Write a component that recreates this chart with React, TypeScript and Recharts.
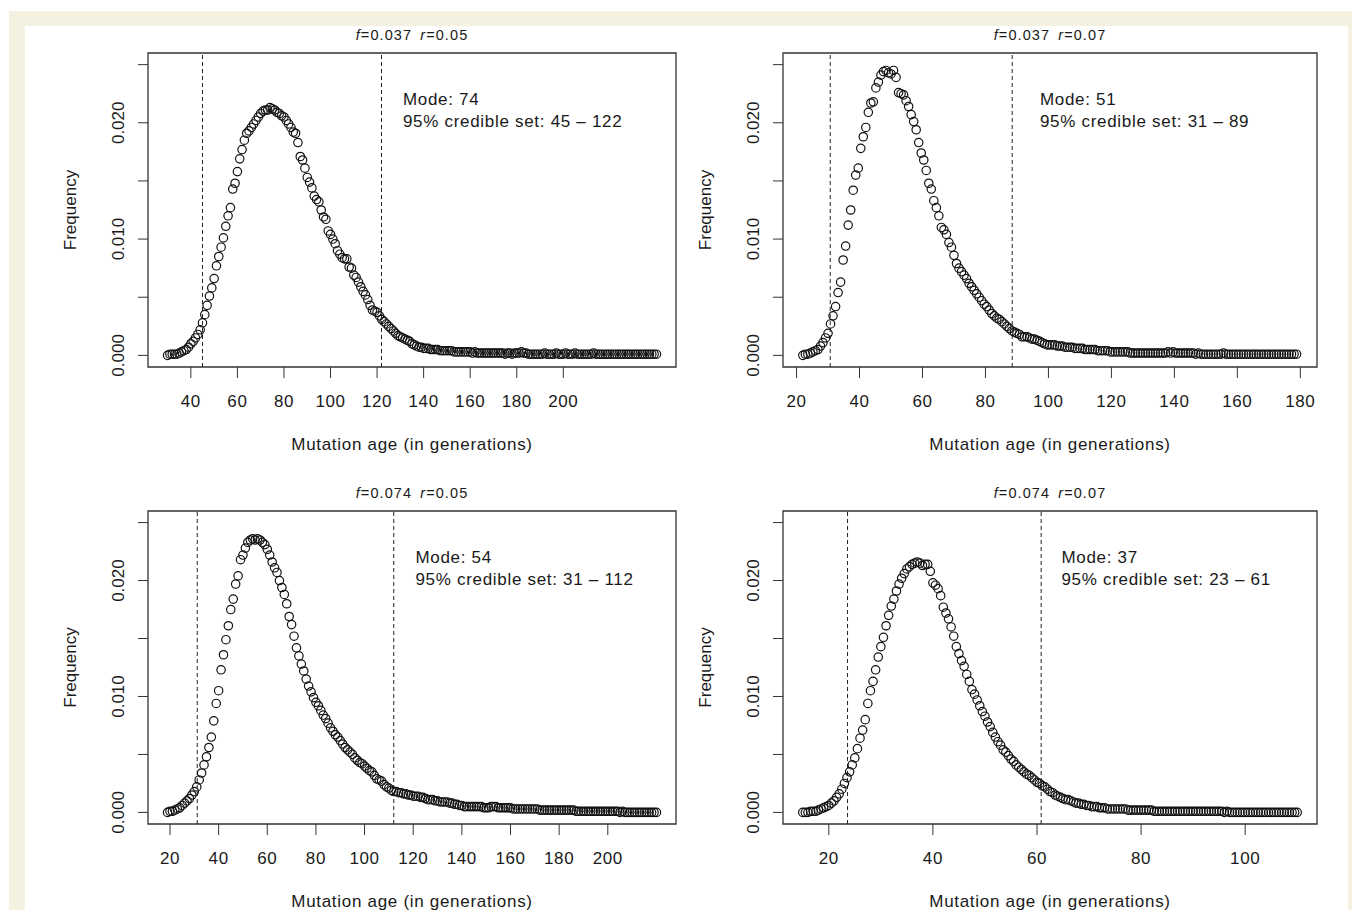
import React from 'react';
import { ScatterChart, Scatter, XAxis, YAxis, ReferenceLine, ReferenceArea, ReferenceDot } from 'recharts';

const FONT = '"Liberation Sans", Arial, Helvetica, sans-serif';
const INK = '#1a1a1a';
const BEIGE = '#F5F1E1';

// ---------- Panel 1 : f=0.037 r=0.05 ----------
const P1_AGE = [
  30,31,32,33,34,35,36,37,38,39,40,41,42,43,44,45,46,47,48,49,
  50,51,52,53,54,55,56,57,58,59,60,61,62,63,64,65,66,67,68,69,
  70,71,72,73,74,75,76,77,78,79,80,81,82,83,84,85,86,87,88,89,
  90,91,92,93,94,95,96,97,98,99,100,101,102,103,104,105,106,107,108,109,
  110,111,112,113,114,115,116,117,118,119,120,121,122,123,124,125,126,127,128,129,
  130,131,132,133,134,135,136,137,138,139,140,141,142,143,144,145,146,147,148,149,
  150,151,152,153,154,155,156,157,158,159,160,161,162,163,164,165,166,167,168,169,
  170,171,172,173,174,175,176,177,178,179,180,181,182,183,184,185,186,187,188,189,
  190,191,192,193,194,195,196,197,198,199,200,201,202,203,204,205,206,207,208,209,
  210,211,212,213,214,215,216,217,218,219,220,221,222,223,224,225,226,227,228,229,
  230,231,232,233,234,235,236,237,238,239,240,
];
const P1_FREQ = [
  0.0000,0.0001,0.0001,0.0001,0.0001,0.0002,0.0003,0.0004,0.0005,0.0007,
  0.0010,0.0012,0.0015,0.0018,0.0022,0.0028,0.0035,0.0043,0.0051,0.0058,
  0.0066,0.0077,0.0085,0.0093,0.0101,0.0111,0.0120,0.0127,0.0143,0.0148,
  0.0158,0.0169,0.0177,0.0185,0.0191,0.0193,0.0196,0.0199,0.0202,0.0205,
  0.0208,0.0210,0.0211,0.0211,0.0213,0.0212,0.0211,0.0209,0.0208,0.0206,
  0.0205,0.0202,0.0199,0.0196,0.0192,0.0191,0.0183,0.0171,0.0168,0.0161,
  0.0153,0.0149,0.0144,0.0137,0.0134,0.0132,0.0125,0.0119,0.0117,0.0107,
  0.0104,0.0100,0.0096,0.0090,0.0087,0.0084,0.0083,0.0083,0.0076,0.0075,
  0.0069,0.0067,0.0063,0.0059,0.0055,0.0052,0.0048,0.0043,0.0039,0.0038,
  0.0037,0.0034,0.0031,0.0029,0.0027,0.0025,0.0023,0.0021,0.0019,0.0017,
  0.0016,0.0015,0.0014,0.0013,0.0012,0.0010,0.0009,0.0008,0.0007,0.0007,
  0.0006,0.0006,0.0006,0.0005,0.0005,0.0005,0.0005,0.0004,0.0004,0.0004,
  0.0004,0.0004,0.0004,0.0003,0.0003,0.0003,0.0003,0.0003,0.0003,0.0003,
  0.0003,0.0002,0.0003,0.0002,0.0002,0.0002,0.0002,0.0002,0.0002,0.0002,
  0.0002,0.0002,0.0002,0.0002,0.0002,0.0001,0.0002,0.0002,0.0001,0.0002,
  0.0002,0.0002,0.0003,0.0002,0.0002,0.0001,0.0001,0.0001,0.0001,0.0001,
  0.0001,0.0001,0.0002,0.0001,0.0001,0.0001,0.0001,0.0002,0.0001,0.0001,
  0.0001,0.0002,0.0001,0.0001,0.0001,0.0002,0.0001,0.0001,0.0001,0.0001,
  0.0001,0.0001,0.0001,0.0002,0.0001,0.0001,0.0001,0.0001,0.0001,0.0001,
  0.0001,0.0001,0.0001,0.0001,0.0001,0.0001,0.0001,0.0001,0.0001,0.0001,
  0.0001,0.0001,0.0001,0.0001,0.0001,0.0001,0.0001,0.0001,0.0001,0.0001,0.0001,
];

// ---------- Panel 2 : f=0.037 r=0.07 ----------
const P2_AGE = [
  22,22.8,23.6,24.4,25.2, 26,26.8,27.6,28.4,29.2, 30,30.8,31.6,32.4,33.2,
  34,34.8,35.6,36.4,37.2, 38,38.8,39.6,40.4,41.2, 42,42.8,43.6,44.4,45.2,
  46,46.8,47.6,48.4,49.2, 50,50.8,51.6,52.4,53.2, 54,54.8,55.6,56.4,57.2,
  58,58.8,59.6,60.4,61.2, 62,62.8,63.6,64.4,65.2, 66,66.8,67.6,68.4,69.2,
  70,70.8,71.6,72.4,73.2, 74,74.8,75.6,76.4,77.2, 78,78.8,79.6,80.4,81.2,
  82,82.8,83.6,84.4,85.2, 86,86.8,87.6,88.4,89.2, 90,90.8,91.6,92.4,93.2,
  94,94.8,95.6,96.4,97.2, 98,98.8,99.6,100.4,101.2, 102,102.8,103.6,104.4,105.2,
  106,106.8,107.6,108.4,109.2, 110,110.8,111.6,112.4,113.2, 114,114.8,115.6,116.4,117.2,
  118,118.8,119.6,120.4,121.2, 122,122.8,123.6,124.4,125.2, 126,126.8,127.6,128.4,129.2,
  130,130.8,131.6,132.4,133.2, 134,134.8,135.6,136.4,137.2, 138,138.8,139.6,140.4,141.2,
  142,142.8,143.6,144.4,145.2, 146,146.8,147.6,148.4,149.2, 150,150.8,151.6,152.4,153.2,
  154,154.8,155.6,156.4,157.2, 158,158.8,159.6,160.4,161.2, 162,162.8,163.6,164.4,165.2,
  166,166.8,167.6,168.4,169.2, 170,170.8,171.6,172.4,173.2, 174,174.8,175.6,176.4,177.2,
  178,178.8,
];
const P2_FREQ = [
  0.0000,0.0001,0.0001,0.0002,0.0003, 0.0004,0.0005,0.0008,0.0011,0.0015, 0.0019,0.0027,0.0034,0.0042,0.0054,
  0.0063,0.0082,0.0094,0.0112,0.0125, 0.0142,0.0155,0.0161,0.0178,0.0188, 0.0196,0.0209,0.0217,0.0218,0.0230,
  0.0235,0.0241,0.0244,0.0245,0.0243, 0.0242,0.0245,0.0239,0.0226,0.0225, 0.0224,0.0219,0.0214,0.0207,0.0201,
  0.0194,0.0183,0.0174,0.0168,0.0159, 0.0148,0.0143,0.0133,0.0127,0.0120, 0.0110,0.0108,0.0104,0.0097,0.0093,
  0.0086,0.0079,0.0075,0.0072,0.0069, 0.0066,0.0062,0.0059,0.0056,0.0053, 0.0050,0.0047,0.0044,0.0042,0.0039,
  0.0036,0.0034,0.0032,0.0031,0.0029, 0.0027,0.0025,0.0023,0.0021,0.0020, 0.0019,0.0018,0.0016,0.0016,0.0016,
  0.0015,0.0014,0.0014,0.0013,0.0012, 0.0011,0.0010,0.0009,0.0009,0.0009, 0.0009,0.0008,0.0008,0.0008,0.0007,
  0.0007,0.0007,0.0007,0.0006,0.0006, 0.0006,0.0006,0.0005,0.0005,0.0005, 0.0005,0.0005,0.0004,0.0004,0.0004,
  0.0004,0.0004,0.0003,0.0003,0.0003, 0.0003,0.0003,0.0003,0.0003,0.0003, 0.0002,0.0002,0.0002,0.0002,0.0002,
  0.0002,0.0002,0.0002,0.0002,0.0002, 0.0002,0.0002,0.0002,0.0002,0.0002, 0.0003,0.0002,0.0003,0.0002,0.0002,
  0.0002,0.0002,0.0002,0.0002,0.0002, 0.0002,0.0001,0.0002,0.0001,0.0001, 0.0001,0.0001,0.0001,0.0001,0.0001,
  0.0001,0.0001,0.0002,0.0001,0.0001, 0.0001,0.0001,0.0001,0.0001,0.0001, 0.0001,0.0001,0.0001,0.0001,0.0001,
  0.0001,0.0001,0.0001,0.0001,0.0001, 0.0001,0.0001,0.0001,0.0001,0.0001, 0.0001,0.0001,0.0001,0.0001,0.0001,
  0.0001,0.0001,
];

// ---------- Panel 3 : f=0.074 r=0.05 ----------
const P3_AGE = [
  19,20,21,22,23,24,25,26,27,28,29,30,31,32,33,34,35,36,37,38,
  39,40,41,42,43,44,45,46,47,48,49,50,51,52,53,54,55,56,57,58,
  59,60,61,62,63,64,65,66,67,68,69,70,71,72,73,74,75,76,77,78,
  79,80,81,82,83,84,85,86,87,88,89,90,91,92,93,94,95,96,97,98,
  99,100,101,102,103,104,105,106,107,108,109,110,111,112,113,114,115,116,117,118,
  119,120,121,122,123,124,125,126,127,128,129,130,131,132,133,134,135,136,137,138,
  139,140,141,142,143,144,145,146,147,148,149,150,151,152,153,154,155,156,157,158,
  159,160,161,162,163,164,165,166,167,168,169,170,171,172,173,174,175,176,177,178,
  179,180,181,182,183,184,185,186,187,188,189,190,191,192,193,194,195,196,197,198,
  199,200,201,202,203,204,205,206,207,208,209,210,211,212,213,214,215,216,217,218,
  219,220,
];
const P3_FREQ = [
  0.0000,0.0001,0.0001,0.0002,0.0003,0.0004,0.0006,0.0008,0.0010,0.0012,
  0.0015,0.0018,0.0022,0.0028,0.0034,0.0041,0.0048,0.0056,0.0065,0.0079,
  0.0094,0.0105,0.0123,0.0136,0.0149,0.0161,0.0175,0.0184,0.0197,0.0204,
  0.0218,0.0222,0.0228,0.0233,0.0235,0.0236,0.0235,0.0236,0.0235,0.0233,
  0.0231,0.0227,0.0222,0.0216,0.0211,0.0207,0.0200,0.0194,0.0188,0.0180,
  0.0169,0.0162,0.0152,0.0142,0.0135,0.0128,0.0122,0.0115,0.0109,0.0104,
  0.0099,0.0095,0.0092,0.0088,0.0084,0.0081,0.0077,0.0073,0.0070,0.0067,
  0.0065,0.0062,0.0059,0.0056,0.0054,0.0052,0.0050,0.0047,0.0045,0.0043,
  0.0042,0.0040,0.0038,0.0036,0.0035,0.0032,0.0029,0.0028,0.0027,0.0024,
  0.0022,0.0021,0.0019,0.0018,0.0018,0.0017,0.0017,0.0016,0.0016,0.0015,
  0.0015,0.0014,0.0014,0.0014,0.0013,0.0013,0.0012,0.0011,0.0011,0.0011,
  0.0010,0.0010,0.0009,0.0009,0.0009,0.0009,0.0008,0.0008,0.0007,0.0007,
  0.0006,0.0006,0.0005,0.0005,0.0005,0.0005,0.0005,0.0005,0.0005,0.0005,
  0.0004,0.0004,0.0004,0.0005,0.0005,0.0005,0.0004,0.0004,0.0004,0.0004,
  0.0004,0.0004,0.0003,0.0003,0.0003,0.0003,0.0003,0.0003,0.0003,0.0003,
  0.0003,0.0003,0.0003,0.0002,0.0002,0.0002,0.0002,0.0002,0.0002,0.0002,
  0.0002,0.0002,0.0002,0.0002,0.0002,0.0002,0.0002,0.0002,0.0001,0.0001,
  0.0001,0.0001,0.0001,0.0001,0.0001,0.0001,0.0001,0.0001,0.0001,0.0001,
  0.0001,0.0001,0.0001,0.0001,0.0001,0.0001,0.0000,0.0001,0.0000,0.0000,
  0.0000,0.0000,0.0000,0.0000,0.0000,0.0000,0.0000,0.0000,0.0000,0.0000,
  0.0000,0.0000,
];

// ---------- Panel 4 : f=0.074 r=0.07 ----------
const P4_AGE = [
  15,15.5,16,16.5,17,17.5,18,18.5,19,19.5, 20,20.5,21,21.5,22,22.5,23,23.5,24,24.5,
  25,25.5,26,26.5,27,27.5,28,28.5,29,29.5, 30,30.5,31,31.5,32,32.5,33,33.5,34,34.5,
  35,35.5,36,36.5,37,37.5,38,38.5,39,39.5, 40,40.5,41,41.5,42,42.5,43,43.5,44,44.5,
  45,45.5,46,46.5,47,47.5,48,48.5,49,49.5, 50,50.5,51,51.5,52,52.5,53,53.5,54,54.5,
  55,55.5,56,56.5,57,57.5,58,58.5,59,59.5, 60,60.5,61,61.5,62,62.5,63,63.5,64,64.5,
  65,65.5,66,66.5,67,67.5,68,68.5,69,69.5, 70,70.5,71,71.5,72,72.5,73,73.5,74,74.5,
  75,75.5,76,76.5,77,77.5,78,78.5,79,79.5, 80,80.5,81,81.5,82,82.5,83,83.5,84,84.5,
  85,85.5,86,86.5,87,87.5,88,88.5,89,89.5, 90,90.5,91,91.5,92,92.5,93,93.5,94,94.5,
  95,95.5,96,96.5,97,97.5,98,98.5,99,99.5, 100,100.5,101,101.5,102,102.5,103,103.5,104,104.5,
  105,105.5,106,106.5,107,107.5,108,108.5,109,109.5, 110,
];
const P4_FREQ = [
  0.0000,0.0000,0.0000,0.0001,0.0001,0.0001,0.0002,0.0003,0.0004,0.0005,
  0.0006,0.0008,0.0010,0.0013,0.0016,0.0020,0.0025,0.0030,0.0035,0.0041,
  0.0047,0.0055,0.0064,0.0071,0.0080,0.0094,0.0105,0.0113,0.0123,0.0134,
  0.0143,0.0151,0.0161,0.0170,0.0178,0.0184,0.0191,0.0197,0.0202,0.0206,
  0.0210,0.0212,0.0214,0.0215,0.0216,0.0215,0.0213,0.0214,0.0214,0.0208,
  0.0198,0.0196,0.0193,0.0187,0.0177,0.0172,0.0167,0.0160,0.0152,0.0143,
  0.0137,0.0131,0.0126,0.0119,0.0113,0.0106,0.0102,0.0097,0.0092,0.0087,
  0.0083,0.0078,0.0074,0.0069,0.0065,0.0061,0.0058,0.0054,0.0052,0.0049,
  0.0046,0.0044,0.0041,0.0039,0.0037,0.0035,0.0033,0.0032,0.0030,0.0028,
  0.0026,0.0025,0.0023,0.0022,0.0020,0.0018,0.0017,0.0015,0.0014,0.0013,
  0.0012,0.0011,0.0011,0.0010,0.0009,0.0008,0.0008,0.0007,0.0007,0.0006,
  0.0006,0.0005,0.0005,0.0005,0.0004,0.0004,0.0004,0.0003,0.0003,0.0003,
  0.0003,0.0003,0.0003,0.0003,0.0003,0.0002,0.0002,0.0002,0.0002,0.0002,
  0.0002,0.0002,0.0002,0.0002,0.0002,0.0001,0.0001,0.0001,0.0001,0.0001,
  0.0001,0.0001,0.0001,0.0001,0.0001,0.0001,0.0001,0.0001,0.0001,0.0001,
  0.0001,0.0001,0.0001,0.0001,0.0001,0.0001,0.0001,0.0001,0.0001,0.0001,
  0.0001,0.0001,0.0000,0.0001,0.0000,0.0000,0.0000,0.0000,0.0000,0.0000,
  0.0000,0.0000,0.0000,0.0000,0.0000,0.0000,0.0000,0.0000,0.0000,0.0000,
  0.0000,0.0000,0.0000,0.0000,0.0000,0.0000,0.0000,0.0000,0.0000,0.0000,
  0.0000,
];

// ---------- axes / annotations ----------
const Y_DOMAIN: [number, number] = [-0.001, 0.026];
const Y_TICKS = [0, 0.005, 0.01, 0.015, 0.02, 0.025];
const Y_LABELED = [0, 0.01, 0.02];
const P1_XTICKS = [40, 60, 80, 100, 120, 140, 160, 180, 200];
const P2_XTICKS = [20, 40, 60, 80, 100, 120, 140, 160, 180];
const P3_XTICKS = [20, 40, 60, 80, 100, 120, 140, 160, 180, 200];
const P4_XTICKS = [20, 40, 60, 80, 100];
const MODE_TEXT_Y = 0.0215;

const Y_AXIS_W = 60;
const X_AXIS_H = 30;

const XTick = (props: any) => {
  const { x, y, payload } = props;
  return (
    <text x={x} y={y + 29} textAnchor="middle" fontFamily={FONT} fontSize={17} letterSpacing={0.6} fill={INK}>
      {payload.value}
    </text>
  );
};

const YTick = (props: any) => {
  const { x, y, payload } = props;
  if (!Y_LABELED.some((v) => Math.abs(v - payload.value) < 1e-9)) return <g />;
  const bx = x - 14;
  return (
    <text x={bx} y={y} transform={`rotate(-90 ${bx} ${y})`} textAnchor="middle" fontFamily={FONT} fontSize={17} fill={INK}>
      {Number(payload.value).toFixed(3)}
    </text>
  );
};

const XTitle = (props: any) => {
  const vb = props.viewBox;
  return (
    <text x={vb.x + vb.width / 2} y={vb.y + 83} textAnchor="middle" fontFamily={FONT} fontSize={17} letterSpacing={0.7} fill={INK}>
      Mutation age (in generations)
    </text>
  );
};

const YTitle = (props: any) => {
  const vb = props.viewBox;
  const bx = vb.x + vb.width - 72;
  const cy = vb.y + vb.height / 2;
  return (
    <text x={bx} y={cy} transform={`rotate(-90 ${bx} ${cy})`} textAnchor="middle" fontFamily={FONT} fontSize={17} fill={INK}>
      Frequency
    </text>
  );
};

const PanelTitle = (props: any) => {
  const { viewBox, f, r } = props;
  return (
    <text x={viewBox.x + viewBox.width / 2} y={viewBox.y - 13} textAnchor="middle" fontFamily={FONT} fontSize={14.5} letterSpacing={1.1} fill={INK}>
      <tspan fontStyle="italic">f</tspan>
      <tspan>={f}</tspan>
      <tspan dx={8} fontStyle="italic">r</tspan>
      <tspan>={r}</tspan>
    </text>
  );
};

const ModeNote = (props: any) => {
  const { viewBox, mode, lo, hi } = props;
  const x = viewBox.x + viewBox.width / 2;
  const y = viewBox.y + viewBox.height / 2;
  return (
    <text fontFamily={FONT} fontSize={17} letterSpacing={0.7} fill={INK}>
      <tspan x={x} y={y}>{`Mode: ${mode}`}</tspan>
      <tspan x={x} y={y + 21.7}>{`95% credible set: ${lo} \u2013 ${hi}`}</tspan>
    </text>
  );
};

const renderCircle = (props: any) => (
  <circle cx={props.cx} cy={props.cy} r={4.2} fill="none" stroke="#111" strokeWidth={1.2} />
);

type PanelProps = {
  left: number; top: number; width: number; height: number;
  margin: { top: number; right: number; bottom: number; left: number };
  ages: number[]; freqs: number[];
  xDomain: [number, number]; xTicks: number[];
  lineLo: number; lineHi: number;
  f: string; r: string; mode: number; lo: number; hi: number; noteX: number;
};

function Panel(p: PanelProps) {
  const data = p.ages.map((x, i) => ({ x, y: p.freqs[i] }));
  const m = {
    top: p.margin.top,
    right: p.margin.right,
    bottom: p.margin.bottom - X_AXIS_H,
    left: p.margin.left - Y_AXIS_W,
  };
  return (
    <div style={{ position: 'absolute', left: p.left, top: p.top, width: p.width, height: p.height }}>
      <ScatterChart width={p.width} height={p.height} margin={m}>
        <XAxis
          type="number" dataKey="x" domain={p.xDomain} ticks={p.xTicks} allowDataOverflow interval={0}
          axisLine={false} tickLine={{ stroke: '#333', strokeWidth: 1 }} tickSize={11} tickMargin={0}
          height={X_AXIS_H} tick={<XTick />} label={<XTitle />}
        />
        <YAxis
          type="number" dataKey="y" domain={Y_DOMAIN} ticks={Y_TICKS} allowDataOverflow interval={0}
          axisLine={false} tickLine={{ stroke: '#333', strokeWidth: 1 }} tickSize={10} tickMargin={0}
          width={Y_AXIS_W} tick={<YTick />} label={<YTitle />}
        />
        <ReferenceArea
          x1={p.xDomain[0]} x2={p.xDomain[1]} y1={Y_DOMAIN[0]} y2={Y_DOMAIN[1]}
          fill="none" fillOpacity={0} stroke="#333" strokeWidth={1.3} ifOverflow="visible"
          label={<PanelTitle f={p.f} r={p.r} />}
        />
        <ReferenceLine x={p.lineLo} stroke="#222" strokeWidth={1} strokeDasharray="4 3" />
        <ReferenceLine x={p.lineHi} stroke="#222" strokeWidth={1} strokeDasharray="4 3" />
        <Scatter data={data} shape={renderCircle} isAnimationActive={false} />
        <ReferenceDot
          x={p.noteX} y={MODE_TEXT_Y} r={1} fill="none" stroke="none" ifOverflow="visible"
          label={<ModeNote mode={p.mode} lo={p.lo} hi={p.hi} />}
        />
      </ScatterChart>
    </div>
  );
}

export default function App() {
  const topMargin = { top: 53, bottom: 91 };
  const botMargin = { top: 53, bottom: 86 };
  return (
    <div style={{ position: 'absolute', left: 0, top: 0, width: 1352, height: 910, background: '#fff', overflow: 'hidden' }}>
      <div style={{ position: 'absolute', left: 9, top: 11, right: 0, bottom: 0, background: BEIGE }} />
      <div style={{ position: 'absolute', left: 25, top: 26, width: 1323, bottom: 0, background: '#fff' }} />
      <Panel
        left={0} top={0} width={680} height={458} margin={{ ...topMargin, left: 148, right: 4 }}
        ages={P1_AGE} freqs={P1_FREQ} xDomain={[21.6, 248.4]} xTicks={P1_XTICKS}
        lineLo={45} lineHi={121.9} f="0.037" r="0.05" mode={74} lo={45} hi={122} noteX={131.1}
      />
      <Panel
        left={680} top={0} width={672} height={458} margin={{ ...topMargin, left: 103, right: 35 }}
        ages={P2_AGE} freqs={P2_FREQ} xDomain={[15.7, 185.3]} xTicks={P2_XTICKS}
        lineLo={30.7} lineHi={88.5} f="0.037" r="0.07" mode={51} lo={31} hi={89} noteX={97.3}
      />
      <Panel
        left={0} top={458} width={680} height={452} margin={{ ...botMargin, left: 148, right: 4 }}
        ages={P3_AGE} freqs={P3_FREQ} xDomain={[10.96, 228.04]} xTicks={P3_XTICKS}
        lineLo={31.2} lineHi={112} f="0.074" r="0.05" mode={54} lo={31} hi={112} noteX={120.9}
      />
      <Panel
        left={680} top={458} width={672} height={452} margin={{ ...botMargin, left: 103, right: 35 }}
        ages={P4_AGE} freqs={P4_FREQ} xDomain={[11.2, 113.8]} xTicks={P4_XTICKS}
        lineLo={23.6} lineHi={60.8} f="0.074" r="0.07" mode={37} lo={23} hi={61} noteX={64.7}
      />
    </div>
  );
}
